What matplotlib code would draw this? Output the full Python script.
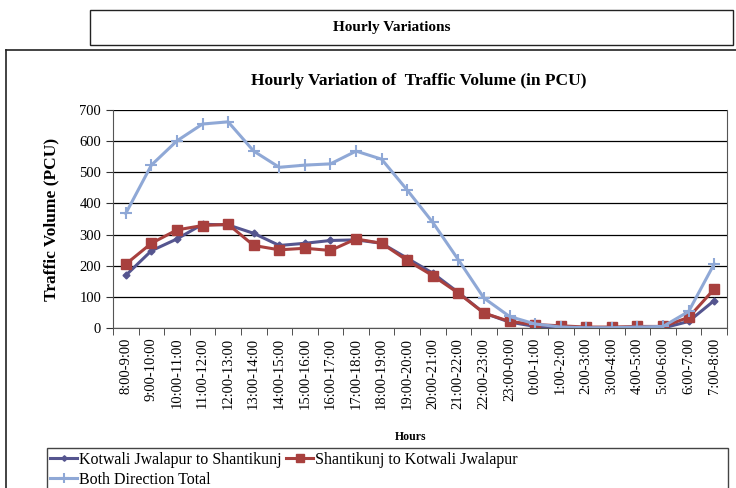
import matplotlib
matplotlib.use("Agg")
import matplotlib.pyplot as plt
from matplotlib.patches import Rectangle
from matplotlib.lines import Line2D

plt.rcParams['font.family'] = ['Liberation Serif', 'DejaVu Serif']

hours = ["8:00-9:00", "9:00-10:00", "10:00-11:00", "11:00-12:00", "12:00-13:00",
         "13:00-14:00", "14:00-15:00", "15:00-16:00", "16:00-17:00", "17:00-18:00",
         "18:00-19:00", "19:00-20:00", "20:00-21:00", "21:00-22:00", "22:00-23:00",
         "23:00-0:00", "0:00-1:00", "1:00-2:00", "2:00-3:00", "3:00-4:00",
         "4:00-5:00", "5:00-6:00", "6:00-7:00", "7:00-8:00"]

kotwali_to_shantikunj = [169, 248, 286, 333, 331, 304, 265, 272, 281, 283,
                         272, 224, 176, 114, 48, 19, 5, 1, 0, 0,
                         0, 0, 21, 88]
shantikunj_to_kotwali = [205, 272, 315, 329, 333, 265, 251, 256, 249, 286,
                         272, 217, 168, 112, 48, 21, 11, 7, 3, 3,
                         5, 5, 34, 125]
both_direction_total = [368, 523, 601, 655, 662, 568, 516, 523, 527, 568,
                        542, 443, 339, 219, 96, 37, 13, 3, 1, 1,
                        3, 5, 53, 206]

c_kot = "#55558F"
c_sha = "#A8403E"
c_tot = "#8FA8D6"

fig = plt.figure(figsize=(7.36, 4.88), dpi=100)

# header box
fig.patches.append(Rectangle((90 / 736, 1 - 45 / 488), 643 / 736, 35 / 488,
                             transform=fig.transFigure, fill=False,
                             edgecolor="#222222", linewidth=1.0))
fig.text(392 / 736, 1 - 28 / 488, "Hourly Variations", ha="center", va="center",
         fontsize=11, fontweight="bold")

# chart frame (continues past the right and bottom edges)
fig.lines.append(Line2D([6 / 736, 6 / 736], [0, 1 - 50 / 488],
                        transform=fig.transFigure, color="#222222", linewidth=1.2))
fig.lines.append(Line2D([6 / 736, 1], [1 - 50 / 488, 1 - 50 / 488],
                        transform=fig.transFigure, color="#222222", linewidth=1.2))

fig.text(419 / 736, 1 - 81 / 488, "Hourly Variation of  Traffic Volume (in PCU)",
         ha="center", va="center", fontsize=12.5, fontweight="bold")

ax = fig.add_axes([113 / 736, 1 - 328 / 488, 614 / 736, 218 / 488])
x = list(range(len(hours)))
l1, = ax.plot(x, kotwali_to_shantikunj, color=c_kot, linewidth=2.2,
              marker="D", markersize=3.5, label="Kotwali Jwalapur to Shantikunj")
l2, = ax.plot(x, shantikunj_to_kotwali, color=c_sha, linewidth=2.2,
              marker="s", markersize=7.5, label="Shantikunj to Kotwali Jwalapur")
l3, = ax.plot(x, both_direction_total, color=c_tot, linewidth=2.2,
              marker="+", markersize=9, markeredgewidth=1.5,
              label="Both Direction Total")

ax.set_xlim(-0.5, len(hours) - 0.5)
ax.set_ylim(0, 700)
ax.set_yticks(range(0, 701, 100))
ax.yaxis.grid(True, color="#000000", linewidth=0.9)
ax.set_axisbelow(True)
ax.set_xticks(x)
ax.set_xticklabels(hours, rotation=90, fontsize=10.5)
ax.set_xticks([i - 0.5 for i in range(len(hours) + 1)], minor=True)
ax.tick_params(axis="x", which="major", length=0, pad=7)
ax.tick_params(axis="x", which="minor", length=5, color="#333333")
ax.tick_params(axis="y", length=5, labelsize=10.5, color="#333333")
ax.spines["top"].set_visible(False)
for s in ["left", "bottom", "right"]:
    ax.spines[s].set_color("#555555")

ax.set_ylabel("Traffic Volume (PCU)", fontsize=12.5, fontweight="bold", labelpad=14)
fig.text(411 / 736, 1 - 437 / 488, "Hours", ha="center", va="center",
         fontsize=8.5, fontweight="bold")

# legend box
fig.patches.append(Rectangle((47 / 736, -0.02), 681 / 736, 0.02 + 40 / 488,
                             transform=fig.transFigure, fill=False,
                             edgecolor="#444444", linewidth=1.0))
leg_kw = dict(loc="upper left", frameon=False, fontsize=11.5, handlelength=1.7,
              handletextpad=0.1, labelspacing=0.25, borderpad=0,
              borderaxespad=0, markerscale=0.8)
fig.legend(handles=[l1, l3], bbox_to_anchor=(50 / 736, 1 - 452 / 488), **leg_kw)
fig.legend(handles=[l2], bbox_to_anchor=(286 / 736, 1 - 452 / 488), **leg_kw)

fig.savefig("out.png", dpi=100)
